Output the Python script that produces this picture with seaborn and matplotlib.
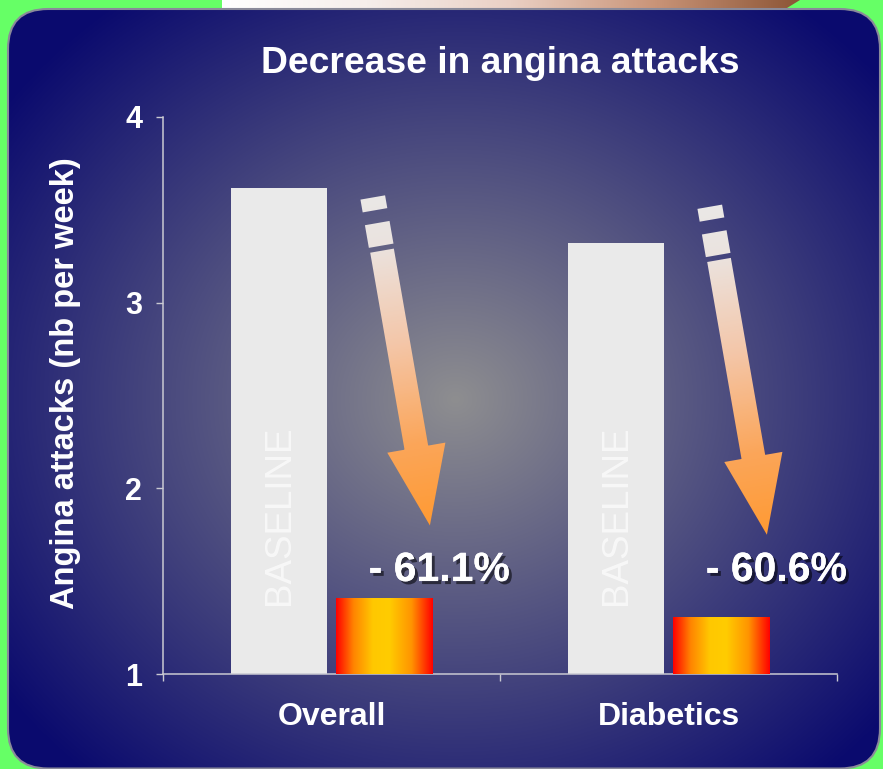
import numpy as np
import pandas as pd
import matplotlib
matplotlib.use("Agg")
import matplotlib.pyplot as plt
import seaborn as sns
from matplotlib.patches import FancyBboxPatch, Polygon, PathPatch
from matplotlib.path import Path
from matplotlib.colors import LinearSegmentedColormap
from matplotlib import patheffects

# ---- data -------------------------------------------------------------
categories = ["Overall", "Diabetics"]
baseline = [3.62, 3.32]            # attacks per week before treatment
decrease_pct = [61.1, 60.6]        # reduction reported on the chart
treated = [b * (1 - p / 100) for b, p in zip(baseline, decrease_pct)]
yticks = [1, 2, 3, 4]

# ---- figure geometry (pixels) ------------------------------------------
W, H, DPI = 883, 769, 100
AX_LEFT, AX_RIGHT, AX_TOP, AX_BOTTOM = 163, 837, 117, 674

sns.set_theme(style="white")
plt.rcParams["font.family"] = ["Liberation Sans", "DejaVu Sans"]

fig = plt.figure(figsize=(W / DPI, H / DPI), dpi=DPI, facecolor="#66ff66")

# backdrop drawn in pixel coordinates (y grows downward)
bg = fig.add_axes([0, 0, 1, 1], zorder=0)
bg.set_xlim(0, W)
bg.set_ylim(H, 0)
bg.axis("off")

# picture strip peeking in at the top
strip = Polygon([(222, 0), (800, 0), (787, 8), (222, 8)], closed=True,
                facecolor="none", edgecolor="none")
bg.add_patch(strip)
strip_cmap = LinearSegmentedColormap.from_list(
    "strip", ["#ffffff", "#f6eeeb", "#ead0c4", "#c99478", "#8c5536"])
im = bg.imshow(np.linspace(0, 1, 256)[None, :], cmap=strip_cmap,
               extent=(222, 800, 8, 0), aspect="auto", zorder=1)
im.set_clip_path(strip)
bg.plot([222, 790], [8.6, 8.6], color="#9c9c9c", lw=1.4, zorder=2)

# rounded navy panel with a soft grey glow in the middle
PX0, PY0, PX1, PY1 = 8, 9, 880, 768.5
panel = FancyBboxPatch((PX0, PY0), PX1 - PX0, PY1 - PY0,
                       boxstyle="round,pad=0,rounding_size=40",
                       facecolor="none", edgecolor="#8a8a9a", lw=1.5, zorder=4)
bg.add_patch(panel)
yy, xx = np.mgrid[PY0:PY1, PX0:PX1].astype(float)
r = np.sqrt(((xx - 455) / 560) ** 2 + ((yy - 400) / 500) ** 2)
t = np.clip(1 - r, 0, 1)[..., None]
navy = np.array([10, 10, 110]) / 255
grey = np.array([142, 142, 144]) / 255
glow = bg.imshow(navy + (grey - navy) * t, extent=(PX0, PX1, PY1, PY0),
                 aspect="auto", zorder=3, interpolation="bilinear")
glow.set_clip_path(panel)

# ---- main chart ---------------------------------------------------------
ax = fig.add_axes([AX_LEFT / W, (H - AX_BOTTOM) / H,
                   (AX_RIGHT - AX_LEFT) / W, (AX_BOTTOM - AX_TOP) / H], zorder=1)
ax.patch.set_alpha(0)

BASE_COLOR, TREAT_COLOR = "#eaeaea", "#ffcc00"
df = pd.DataFrame({
    "group": categories * 2,
    "phase": ["Baseline"] * len(categories) + ["Treated"] * len(categories),
    "attacks": baseline + treated,
})
sns.barplot(data=df, x="group", y="attacks", hue="phase",
            palette={"Baseline": BASE_COLOR, "Treated": TREAT_COLOR},
            width=0.62, gap=0.08, saturation=1, legend=False, linewidth=0,
            ax=ax)
ax.set_xlim(-0.5, len(categories) - 0.5)
ax.set_ylim(yticks[0], yticks[-1])

# red-yellow-red sheen on the treated bars
sheen = LinearSegmentedColormap.from_list(
    "sheen", [(0.0, "#ff0000"), (0.18, "#ff8400"), (0.38, "#ffc800"),
              (0.55, "#ffcc00"), (0.78, "#ff9400"), (1.0, "#ff0000")])
base_rgb = matplotlib.colors.to_rgb(BASE_COLOR)
base_bars = []
for bar in list(ax.patches):
    fc = bar.get_facecolor()[:3]
    if np.allclose(fc, base_rgb, atol=0.02):
        base_bars.append(bar)
        continue
    x0, w, h = bar.get_x(), bar.get_width(), bar.get_height()
    g = ax.imshow(np.linspace(0, 1, 256)[None, :], cmap=sheen,
                  extent=(x0, x0 + w, yticks[0], h), aspect="auto", zorder=3)
    g.set_clip_path(bar)
ax.set_xlim(-0.5, len(categories) - 0.5)
ax.set_ylim(yticks[0], yticks[-1])

for bar in base_bars:
    ax.text(bar.get_x() + bar.get_width() / 2, 1.37, "BASELINE", rotation=90,
            ha="center", va="bottom", color="#f8f8f8", fontsize=26.5, zorder=4)

shadow = [patheffects.withSimplePatchShadow(offset=(2.2, -2.2),
                                            shadow_rgbFace="black", alpha=0.55),
          patheffects.Normal()]
for i, pct in enumerate(decrease_pct):
    ax.text(i + 0.32, 1.56, f"- {pct}%", ha="center", va="center",
            color="white", fontsize=29.5, fontweight="bold", zorder=5,
            path_effects=shadow)

# axes styling
for side in ("top", "right"):
    ax.spines[side].set_visible(False)
for side in ("left", "bottom"):
    ax.spines[side].set_color("#c9c9d2")
    ax.spines[side].set_linewidth(1.1)
ax.set_yticks(yticks)
ax.set_yticklabels([str(v) for v in yticks])
ax.tick_params(axis="y", direction="out", length=5, width=1, color="#c9c9d2",
               labelcolor="white", labelsize=22, pad=10, left=True)
ax.set_xticks(range(len(categories)))
ax.set_xticklabels(categories)
ax.set_xticks([k - 0.5 for k in range(len(categories) + 1)], minor=True)
ax.tick_params(axis="x", which="major", length=0, labelcolor="white",
               labelsize=23, pad=20)
ax.tick_params(axis="x", which="minor", direction="out", length=5, width=1,
               color="#c9c9d2", bottom=True)
for lbl in ax.get_xticklabels() + ax.get_yticklabels():
    lbl.set_fontweight("bold")
ax.set_xlabel("")
ax.set_ylabel("Angina attacks (nb per week)", fontsize=23.5, fontweight="bold",
              color="white")
ax.yaxis.set_label_coords((66 - AX_LEFT) / (AX_RIGHT - AX_LEFT),
                          (AX_BOTTOM - 383) / (AX_BOTTOM - AX_TOP))
ax.yaxis.label.set_va("center")
ax.set_title("Decrease in angina attacks", fontsize=26.8, fontweight="bold",
             color="white", pad=32)

# ---- falling arrows (drawn on the backdrop in pixel units) ---------------
u = np.array([0.1716, 0.985])      # pointing from tail to tip, y downward
v = np.array([0.985, -0.1716])
arrow_tips = [(0.292, 1.80), (1.292, 1.75)]
pieces = [  # (kind, s_start, s_end, half_width) measured back from the tip
    ("head", 0, 79, 29.5),
    ("shaft", 78, 279, 12),
    ("dash", 284, 307, 12.5),
    ("dash", 320, 333, 12.5),
]
arrow_cmap = LinearSegmentedColormap.from_list(
    "fade", [(0.0, "#ff9a33"), (0.25, "#fba65a"), (0.55, "#f4c6a8"),
             (0.85, "#ebe3df"), (1.0, "#eae8e6")])
for tx, ty in arrow_tips:
    dx, dy = ax.transData.transform((tx, ty))
    tip = np.array([dx, H - dy])
    verts = []
    for kind, s0, s1, hw in pieces:
        if kind == "head":
            pts = [tip, tip - s1 * u - hw * v, tip - s1 * u + hw * v]
        else:
            pts = [tip - s0 * u - hw * v, tip - s1 * u - hw * v,
                   tip - s1 * u + hw * v, tip - s0 * u + hw * v]
        verts.append(Path(np.vstack([pts, pts[:1]]), closed=True))
    shape = PathPatch(Path.make_compound_path(*verts), facecolor="none",
                      edgecolor="none", zorder=5)
    bg.add_patch(shape)
    allpts = np.vstack([p.vertices for p in verts])
    x0, y0 = allpts.min(axis=0) - 2
    x1, y1 = allpts.max(axis=0) + 2
    gy, gx = np.mgrid[y0:y1:1.0, x0:x1:1.0]
    s = (tip[0] - gx) * u[0] + (tip[1] - gy) * u[1]
    a = bg.imshow(np.clip(s / 333, 0, 1), cmap=arrow_cmap, vmin=0, vmax=1,
                  extent=(x0, x1, y1, y0), aspect="auto", zorder=5,
                  interpolation="bilinear")
    a.set_clip_path(shape)

bg.set_xlim(0, W)
bg.set_ylim(H, 0)

fig.savefig("out.png", dpi=DPI, facecolor=fig.get_facecolor())
